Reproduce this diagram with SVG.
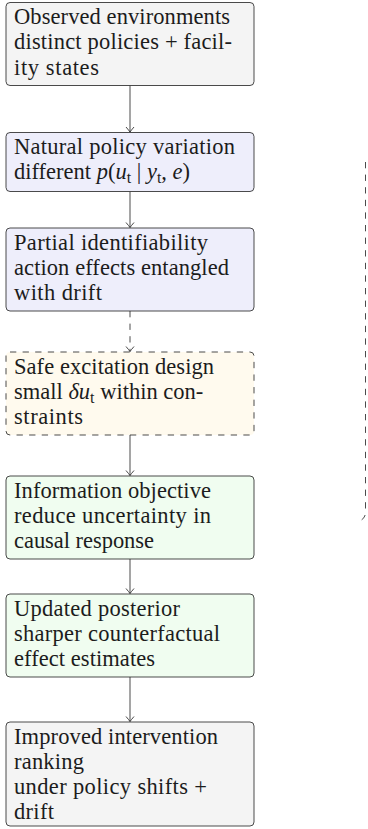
<svg xmlns="http://www.w3.org/2000/svg" width="368" height="829" viewBox="0 0 368 829">
  <defs>
    <style>
      .box { stroke: #2a2a2a; stroke-width: 0.85; }
      .gray { fill: #f4f4f4; }
      .blue { fill: #eeeefb; }
      .cream { fill: #fffaee; stroke-dasharray: 6.3 6.3; }
      .green { fill: #f0fdf0; }
      text { font-family: "Liberation Serif", "DejaVu Serif", serif; font-size: 22.5px; fill: #1c1c1c; }
      .m { font-style: italic; }
      .sub { font-size: 16px; }
      .edge { fill: none; stroke: #2a2a2a; stroke-width: 0.85; }
      .dash { stroke-dasharray: 6.3 6.3; }
    </style>
    <marker id="tip" markerUnits="userSpaceOnUse" viewBox="-8 -6 10 12" markerWidth="10" markerHeight="12" refX="0" refY="0" orient="auto">
      <path d="M-5,-4 Q-1.5,-1 0,0 Q-1.5,1 -5,4" fill="none" stroke="#2a2a2a" stroke-width="0.85"/>
    </marker>
  </defs>

  <!-- connectors -->
  <g id="connectors">
    <path class="edge" d="M130,85.5 V132" marker-end="url(#tip)"/>
    <path class="edge" d="M130,191.5 V227.5" marker-end="url(#tip)"/>
    <path class="edge dash" d="M130,311 V351.5" marker-end="url(#tip)"/>
    <path class="edge" d="M130,435 V475.5" marker-end="url(#tip)"/>
    <path class="edge" d="M130,559 V593.5" marker-end="url(#tip)"/>
    <path class="edge" d="M130,677 V721.5" marker-end="url(#tip)"/>
    <path class="edge dash" d="M365.5,162 V512 Q365.5,519 359,521"/>
  </g>

  <g id="observed">
    <rect class="box gray" x="6" y="2.5" width="248" height="83" rx="4"/>
    <text x="14" y="24.1" textLength="216" lengthAdjust="spacing">Observed environments</text>
    <text x="14" y="49.3" textLength="218" lengthAdjust="spacing">distinct policies + facil-</text>
    <text x="14" y="74.5" textLength="85" lengthAdjust="spacing">ity states</text>
  </g>

  <g id="variation">
    <rect class="box blue" x="6" y="132.5" width="248" height="59" rx="4"/>
    <text x="14" y="154.1" textLength="221" lengthAdjust="spacing">Natural policy variation</text>
    <text x="14" y="179.3">different <tspan class="m">p</tspan>(<tspan class="m">u</tspan><tspan class="sub" dy="4">t</tspan><tspan dy="-4"> | </tspan><tspan class="m">y</tspan><tspan class="sub" dy="4">t</tspan><tspan dy="-4">, </tspan><tspan class="m">e</tspan>)</text>
  </g>

  <g id="identifiability">
    <rect class="box blue" x="6" y="228" width="248" height="83" rx="4"/>
    <text x="14" y="249.6" textLength="194" lengthAdjust="spacing">Partial identifiability</text>
    <text x="14" y="274.8" textLength="215" lengthAdjust="spacing">action effects entangled</text>
    <text x="14" y="300" textLength="88" lengthAdjust="spacing">with drift</text>
  </g>

  <g id="excitation">
    <rect class="box cream" x="6" y="352" width="248" height="83" rx="4"/>
    <text x="14" y="373.6" textLength="200" lengthAdjust="spacing">Safe excitation design</text>
    <text x="14" y="398.8">small <tspan class="m">δu</tspan><tspan class="sub" dy="4">t</tspan><tspan dy="-4"> within con-</tspan></text>
    <text x="14" y="424" textLength="69" lengthAdjust="spacing">straints</text>
  </g>

  <g id="objective">
    <rect class="box green" x="6" y="476" width="248" height="83" rx="4"/>
    <text x="14" y="497.6" textLength="197" lengthAdjust="spacing">Information objective</text>
    <text x="14" y="522.8" textLength="197" lengthAdjust="spacing">reduce uncertainty in</text>
    <text x="14" y="548" textLength="140" lengthAdjust="spacing">causal response</text>
  </g>

  <g id="posterior">
    <rect class="box green" x="6" y="594" width="248" height="83" rx="4"/>
    <text x="14" y="615.6" textLength="166" lengthAdjust="spacing">Updated posterior</text>
    <text x="14" y="640.8" textLength="206" lengthAdjust="spacing">sharper counterfactual</text>
    <text x="14" y="666" textLength="141" lengthAdjust="spacing">effect estimates</text>
  </g>

  <g id="ranking">
    <rect class="box gray" x="6" y="722" width="248" height="104" rx="4"/>
    <text x="14" y="743.6" textLength="204" lengthAdjust="spacing">Improved intervention</text>
    <text x="14" y="768.8" textLength="70" lengthAdjust="spacing">ranking</text>
    <text x="14" y="794" textLength="193" lengthAdjust="spacing">under policy shifts +</text>
    <text x="14" y="819.2" textLength="40" lengthAdjust="spacing">drift</text>
  </g>
</svg>
